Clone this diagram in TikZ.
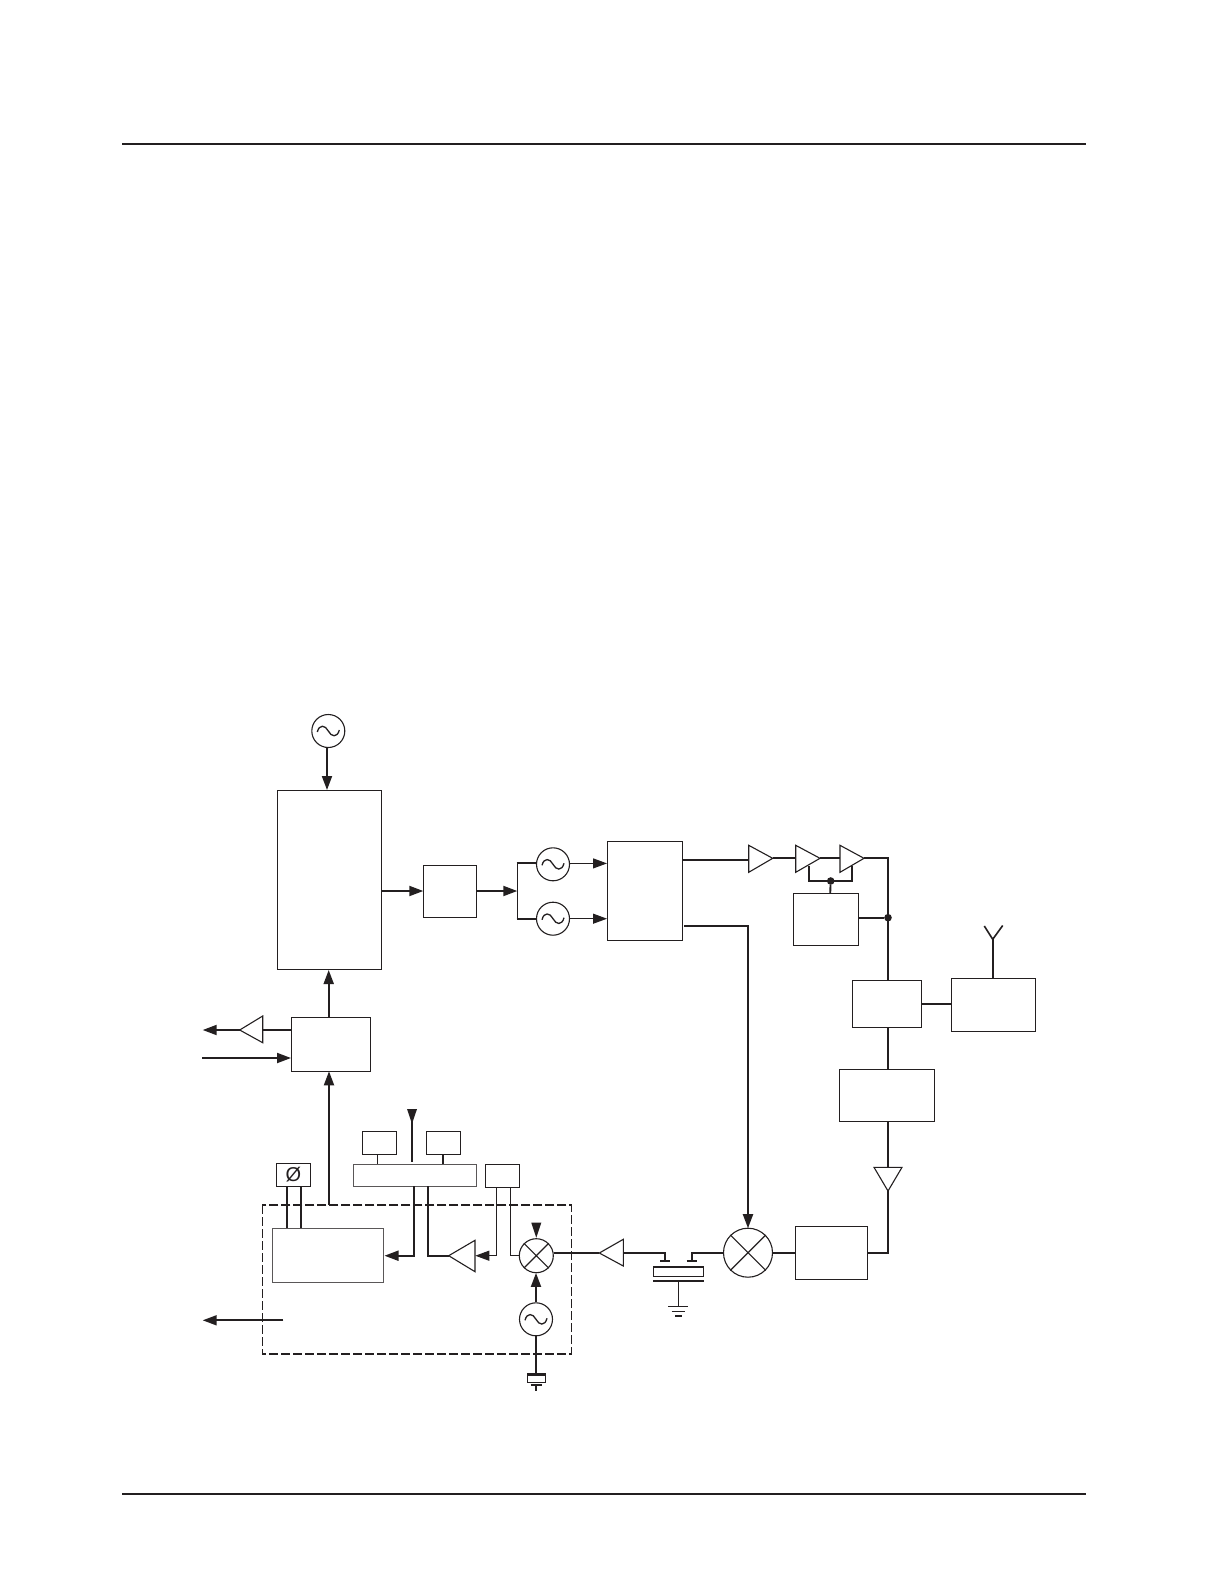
\documentclass[tikz,border=0pt]{standalone}
\usepackage{fontspec}
\setmainfont{Liberation Sans}
\usetikzlibrary{arrows.meta,calc}
\definecolor{ink}{HTML}{231F20}
\begin{document}
\begin{tikzpicture}[x=1pt,y=-1pt,line join=miter,
  box/.style={draw=ink,line width=1.1pt,fill=white,inner sep=0pt,minimum width=0pt},
  softbox/.style={draw=ink!75,line width=1pt,fill=white},
  wire/.style={draw=ink,line width=1.9pt},
  thinw/.style={draw=ink,line width=1.1pt},
  arr/.style={wire,-{Triangle[length=14pt,width=10pt,fill=ink]}},
  tarr/.style={thinw,-{Triangle[length=14pt,width=10pt,fill=ink]}},
  amp/.style={draw=ink,line width=1.1pt,fill=white},
  rule/.style={draw=ink,line width=2.1pt},
  dot/.style={circle,fill=ink,inner sep=0pt,minimum size=7.6pt},
  circ/.style={circle,draw=ink,line width=1.1pt,fill=white,inner sep=0pt}]
\useasboundingbox (0,0) rectangle (1224,1584);
\fill[white] (0,0) rectangle (1224,1584);
% page rules
\coordinate (r1a) at (122,144); \coordinate (r1b) at (1086,144);
\coordinate (r2a) at (122,1494); \coordinate (r2b) at (1086,1494);
\draw[rule] (r1a) -- (r1b);
\draw[rule] (r2a) -- (r2b);
% dashed enclosure
\coordinate (dnw) at (262.3,1205); \coordinate (dse) at (571.3,1354);
\draw[draw=ink,line width=1.2pt,dash pattern=on 9pt off 3pt] (dnw) rectangle (dse);
% rectangles
\newcommand{\bx}[5]{\draw[box] (#2,#3) rectangle (#4,#5);
  \coordinate (#1) at ({(#2+#4)/2},{(#3+#5)/2});}
\bx{main}{277.3}{790.3}{381.7}{969.3}
\bx{div}{423.3}{865.3}{476.3}{917.3}
\bx{mod}{607.3}{841.3}{682.7}{940.3}
\bx{agc}{793.3}{893.3}{858.3}{945.7}
\bx{dup}{852.3}{980.3}{921.7}{1027.3}
\bx{ant}{951.3}{978.3}{1035.7}{1031.3}
\bx{filt}{839.3}{1069.3}{934.7}{1121.7}
\bx{lna}{795.3}{1226.3}{867.7}{1279.3}
\bx{cpu}{291.3}{1017.3}{370.3}{1071.3}
\draw[softbox] (272.3,1228.5) rectangle (383.6,1282.7);
\coordinate (ifc) at (328,1255.6);
\bx{phi}{276.3}{1163.7}{310.3}{1186.3}
\bx{ba}{362.3}{1131.3}{396.3}{1154.3}
\bx{bb}{426.3}{1131.3}{460.3}{1154.3}
\draw[softbox] (353.7,1164.2) rectangle (476.3,1186.3);
\coordinate (bus) at (415,1175);
\bx{bc}{485.3}{1164.7}{519.7}{1187.3}
\node[font=\fontsize{20}{20}\selectfont,text=ink,inner sep=0pt] (phisym) at (293.5,1175) {Ø};
% oscillators
\newcommand{\osc}[3]{\node[circ,minimum size=33pt] (#1) at (#2,#3) {};
  \draw[thinw,line width=1.3pt] ($(#1.center)+(-11,1)$) .. controls +(2,-8) and +(-3,-6) .. (#1.center) .. controls +(3,6) and +(-2,8) .. ($(#1.center)+(11,-1)$);}
\osc{o1}{328.3}{731}
\osc{o2}{553}{864.3}
\osc{o3}{553}{918.7}
\osc{o4}{536}{1319.3}
% mixers
\newcommand{\mix}[4]{\node[circ,minimum size=#4pt] (#1) at (#2,#3) {};
  \draw[thinw] (#1.45) -- (#1.225) (#1.135) -- (#1.-45);}
\mix{m1}{748}{1252.7}{49}
\mix{m2}{536.3}{1255.7}{34}
% amplifiers
\newcommand{\ampr}[6]{% name, x base, x tip, y top, y bottom, y tip
  \draw[amp] (#2,#4) -- (#3,#6) -- (#2,#5) -- cycle;
  \coordinate (#1b) at (#2,#6); \coordinate (#1t) at (#3,#6);}
\ampr{a1}{748.7}{772.7}{845.3}{872.3}{858.3}
\ampr{a2}{795.7}{820}{845.3}{872.3}{858.3}
\ampr{a3}{840}{864}{845.3}{872.3}{858.3}
\ampr{a4}{623.3}{599.3}{1239.3}{1266}{1253}
\ampr{a5}{262.7}{239.7}{1016}{1042.7}{1030}
\ampr{a6}{475}{448.7}{1240.3}{1271.7}{1255.7}
\draw[amp] (874,1167.3) -- (888,1191) -- (902,1167.3) -- cycle;
\coordinate (a7b) at (888,1167.3); \coordinate (a7t) at (888,1191);
% --- connectors
\coordinate (o1d) at (327,747.5);
\draw[arr] (o1d) -- (327,790);
\draw[arr] (381.7,891) -- (423.3,891);
\coordinate (brn) at (517.3,891);
\draw[arr] (476.3,891) -- (brn);
\draw[thinw,line width=1.3pt] (517.3,863) -- (517.3,919);
\draw[wire] (516.6,863) -- (o2.west |- 0,863);
\draw[wire] (516.6,919) -- (o3.west |- 0,919);
\draw[tarr] (569.5,863.4) -- (607,863.4);
\draw[tarr] (569.5,918.7) -- (607,918.7);
% modulator to PA
\draw[wire] (682.7,859.7) -- (a1b |- 0,859.7);
\draw[wire] (a1t) -- (a2b);
\draw[wire] (a2t) -- (a3b);
\coordinate (rt) at (888,858.3);
\coordinate (jn) at (888,917.7);
\draw[wire] (a3t) -- (rt) -- (888,980.3);
\node[dot] (jd) at (jn) {};
\draw[wire] (858.3,917.7) -- (jd);
% feedback
\coordinate (fb) at (830.7,881);
\draw[wire] (809,866) -- (809,881) -- (852.3,881) -- (852.3,866);
\node[dot] (fd) at (fb) {};
\draw[wire] (fd) -- (830.2,893.3);
% duplexer/antenna
\draw[wire] (921.7,1003.7) -- (951.3,1003.7);
\draw[wire] (888,1027.3) -- (888,1069.3);
\coordinate (tip) at (992.7,939.3);
\draw[wire,line width=1.6pt] (992.7,978.3) -- (tip);
\draw[wire,line width=1.6pt] (984.3,926) -- (tip) -- (1002.7,925.5);
% receive
\draw[wire] (888,1121.7) -- (a7b);
\draw[wire] (a7t) -- (888,1252.7) -- (867.7,1252.7);
\draw[wire] (795.3,1252.7) -- (m1.east);
% LO to mixer
\draw[arr] (684.3,926) -- (748,926) -- (748,1228.2);
% SAW
\draw[wire] (m1.west) -- (691.7,1252.7) -- (691.7,1261);
\draw[wire] (686.7,1261) -- (696.7,1261);
\draw[wire] (a4b) -- (665.3,1253) -- (665.3,1261);
\draw[wire] (660,1261) -- (670,1261);
\coordinate (s1) at (653.3,1266.7); \coordinate (s2) at (703.7,1276.3);
\draw[thinw] (s1) rectangle (s2);
\draw[wire] (653,1266.7) -- (704,1266.7);
\draw[wire] (653,1281) -- (704,1281);
\coordinate (g0) at (678.7,1306.3);
\draw[thinw] (678.7,1281) -- (g0);
\draw[thinw] (668.3,1306.3) -- (687.7,1306.3);
\draw[thinw] (671.7,1311.3) -- (685,1311.3);
\draw[wire] (675,1316) -- (682,1316);
\draw[wire] (a4t) -- (m2.east |- 0,1253);
% down-conv
\draw[arr] (o4.north) -- (536,1272.9);
\draw[wire] (o4.south) -- (536,1374);
\draw[wire] (527.3,1374) -- (545.7,1374);
\draw[thinw] (527.3,1375.7) rectangle (545.7,1382.3);
\draw[wire] (530.7,1384.8) -- (541.7,1384.8);
\draw[wire] (536,1384.8) -- (536,1391);
\coordinate (dh1) at (531.3,1222.7); \coordinate (dh2) at (541.3,1222.7); \coordinate (dh3) at (536.3,1237.7);
\fill[ink] (dh1) -- (dh2) -- (dh3) -- cycle;
% control bus
\draw[thinw] (377.3,1154.3) -- (377.3,1163.7);
\draw[wire] (443,1154.3) -- (443,1163.7);
\draw[wire] (412,1161.7) -- (412,1118);
\coordinate (th1) at (407,1109); \coordinate (th2) at (417,1109); \coordinate (th3) at (412,1123.8);
\fill[ink] (th1) -- (th2) -- (th3) -- cycle;
\draw[arr] (414,1186.3) -- (414,1255.7) -- (384.5,1255.7);
\draw[wire] (428,1186.3) -- (428,1255.7) -- (a6t);
\draw[tarr] (496.3,1187.3) -- (496.3,1255.7) -- (475.3,1255.7);
\draw[thinw] (510.3,1187.3) -- (510.3,1255.7) -- (m2.west);
% phi
\draw[wire] (287,1186.3) -- (287,1228);
\draw[wire] (300.7,1186.3) -- (300.7,1228);
% IF to CPU
\draw[arr] (329,1205) -- (329,1071.3);
\draw[arr] (328.7,1017.3) -- (328.7,970);
% left I/O
\draw[wire] (291,1030) -- (a5b);
\coordinate (lo1) at (202.7,1030);
\draw[arr] (a5t) -- (lo1);
\coordinate (li1) at (202,1058);
\draw[arr] (li1) -- (291,1058);
\coordinate (lo2) at (283.3,1320.3); \coordinate (lo3) at (202.7,1320.3);
\draw[arr,line width=1.7pt] (lo2) -- (lo3);
\end{tikzpicture}
\end{document}
